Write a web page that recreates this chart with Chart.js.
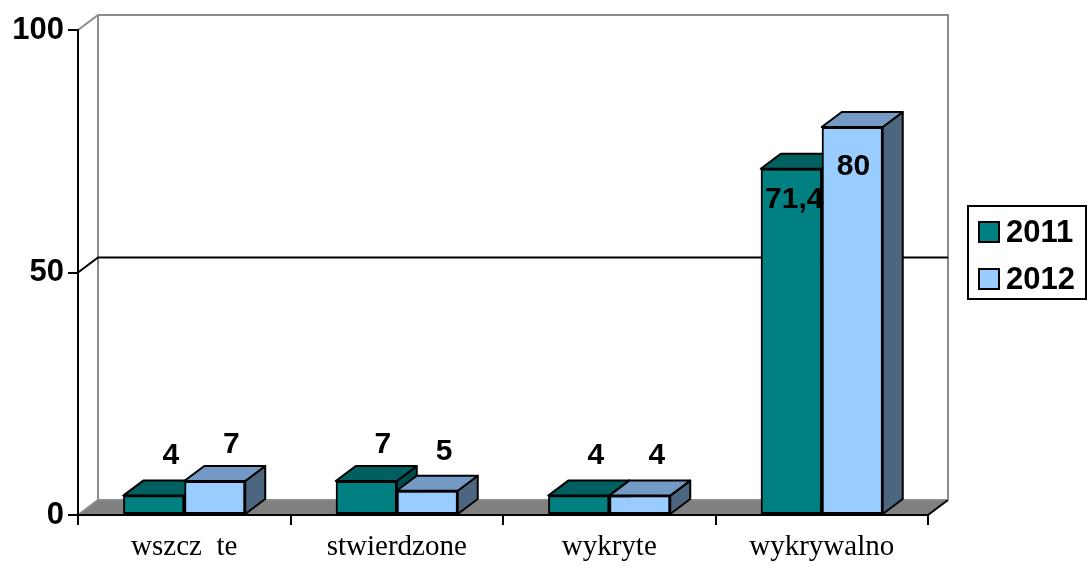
<!DOCTYPE html>
<html>
<head>
<meta charset="utf-8">
<script src="https://cdn.jsdelivr.net/npm/chart.js@4.4.0/dist/chart.umd.min.js"></script>
<style>
    html, body { margin: 0; padding: 0; background: #ffffff; }
    #wrap { width: 1090px; height: 568px; }
</style>
</head>
<body>
<div id="wrap"><canvas id="myChart" width="1090" height="568"></canvas></div>
<script>
let categories = ['wszcz  te', 'stwierdzone', 'wykryte', 'wykrywalno'];
let values_2011 = [4, 7, 4, 71.4];
let values_2012 = [7, 5, 4, 80];
let series_labels = ['2011', '2012'];
let y_ticks = [0, 50, 100];

// front / top / side colours of each series
let front_colors = ['#008080', '#99CCFF'];
let top_colors = ['#005f5f', '#7399c4'];
let side_colors = ['#004a4a', '#4d6680'];

const dx = 20, dy = -15;
const label_font = 'bold 30px Arial, "Liberation Sans", sans-serif';
const legend_font = 'bold 31px Arial, "Liberation Sans", sans-serif';

function poly(ctx, pts, fill, stroke) {
    ctx.beginPath();
    ctx.moveTo(pts[0][0], pts[0][1]);
    for (let i = 1; i < pts.length; i++) ctx.lineTo(pts[i][0], pts[i][1]);
    ctx.closePath();
    if (fill) { ctx.fillStyle = fill; ctx.fill(); }
    if (stroke) { ctx.strokeStyle = stroke; ctx.lineWidth = 2; ctx.stroke(); }
}

const walls3d = {
    id: 'walls3d',
    beforeDraw(chart) {
        const ctx = chart.ctx;
        const a = chart.chartArea;
        const y = chart.scales.y;
        ctx.save();
        ctx.fillStyle = '#ffffff';
        ctx.fillRect(0, 0, chart.width, chart.height);
        // floor
        poly(ctx, [[a.left, a.bottom], [a.left + dx, a.bottom + dy], [a.right + dx, a.bottom + dy], [a.right, a.bottom]], '#808080', null);
        ctx.lineWidth = 2;
        ctx.strokeStyle = '#8c8c8c';
        ctx.beginPath();
        ctx.moveTo(a.left, a.bottom);
        ctx.lineTo(a.left + dx, a.bottom + dy);
        ctx.lineTo(a.right + dx, a.bottom + dy);
        ctx.stroke();
        ctx.strokeStyle = '#000000';
        ctx.beginPath();
        ctx.moveTo(a.right, a.bottom);
        ctx.lineTo(a.right + dx, a.bottom + dy);
        ctx.stroke();
        // back wall
        let top = y.getPixelForValue(y_ticks[y_ticks.length - 1]);
        ctx.strokeStyle = '#8c8c8c';
        ctx.beginPath();
        ctx.moveTo(a.left, top);
        ctx.lineTo(a.left + dx, top + dy);
        ctx.lineTo(a.right + dx, top + dy);
        ctx.lineTo(a.right + dx, a.bottom + dy);
        ctx.moveTo(a.left + dx, top + dy);
        ctx.lineTo(a.left + dx, a.bottom + dy);
        ctx.stroke();
        // gridlines on back wall
        ctx.strokeStyle = '#000000';
        y_ticks.slice(1, -1).forEach(v => {
            let py = y.getPixelForValue(v);
            ctx.beginPath();
            ctx.moveTo(a.left, py);
            ctx.lineTo(a.left + dx, py + dy);
            ctx.lineTo(a.right + dx, py + dy);
            ctx.stroke();
        });
        ctx.restore();
    },
    afterDatasetsDraw(chart) {
        const ctx = chart.ctx;
        ctx.save();
        ctx.lineJoin = 'round';
        // 3d boxes, series in order so that 2012 sits over 2011
        chart.data.datasets.forEach((ds, i) => {
            chart.getDatasetMeta(i).data.forEach(bar => {
                const p = bar.getProps(['x', 'y', 'base', 'width'], true);
                const x0 = p.x - p.width / 2, x1 = p.x + p.width / 2;
                poly(ctx, [[x1, p.y], [x1 + dx, p.y + dy], [x1 + dx, p.base + dy], [x1, p.base]], side_colors[i], '#000000');
                poly(ctx, [[x0, p.y], [x0 + dx, p.y + dy], [x1 + dx, p.y + dy], [x1, p.y]], top_colors[i], '#000000');
                bar.draw(ctx);
            });
        });
        // value labels
        ctx.font = label_font;
        ctx.fillStyle = '#000000';
        ctx.textAlign = 'center';
        ctx.textBaseline = 'middle';
        chart.data.datasets.forEach((ds, i) => {
            chart.getDatasetMeta(i).data.forEach((bar, j) => {
                const v = ds.data[j];
                const p = bar.getProps(['x', 'y'], true);
                ctx.fillText(String(v).replace('.', ','), p.x + 18 - 0.21 * v, p.y - 44 + 1.05 * v);
            });
        });
        ctx.restore();
    },
    afterDraw(chart) {
        const ctx = chart.ctx;
        ctx.save();
        ctx.lineWidth = 2;
        ctx.strokeStyle = '#000000';
        ctx.strokeRect(968, 206, 118, 93);
        ctx.font = legend_font;
        ctx.textBaseline = 'middle';
        ctx.textAlign = 'left';
        chart.data.datasets.forEach((ds, i) => {
            const cy = 232 + i * 47;
            ctx.fillStyle = ds.backgroundColor;
            ctx.fillRect(979, cy - 10, 20, 20);
            ctx.strokeRect(979, cy - 10, 20, 20);
            ctx.fillStyle = '#000000';
            ctx.fillText(ds.label, 1006, cy + 1);
        });
        ctx.restore();
    }
};

let ctx = document.getElementById('myChart');
let chart = new Chart(ctx, {
    type: 'bar',
    data: {
        labels: categories,
        datasets: [
            {
                label: series_labels[0],
                data: values_2011,
                backgroundColor: front_colors[0],
                borderColor: '#000000',
                borderWidth: 2,
                borderSkipped: false
            },
            {
                label: series_labels[1],
                data: values_2012,
                backgroundColor: front_colors[1],
                borderColor: '#000000',
                borderWidth: 2,
                borderSkipped: false
            }
        ]
    },
    options: {
        responsive: false,
        animation: false,
        categoryPercentage: 0.574,
        barPercentage: 1.0,
        layout: { padding: { top: 30, right: 162, left: 0, bottom: 0 } },
        scales: {
            y: {
                min: 0,
                max: 100,
                afterFit: (s) => { s.width = 78; },
                afterBuildTicks: (s) => { s.ticks = y_ticks.map(v => ({ value: v })); },
                ticks: {
                    color: '#000000',
                    padding: 4,
                    font: { family: 'Arial, "Liberation Sans", sans-serif', size: 31, weight: 'bold' }
                },
                grid: { drawOnChartArea: false, drawTicks: true, tickLength: 10, color: '#000000', lineWidth: 2 },
                border: { display: true, color: '#000000', width: 2 }
            },
            x: {
                afterFit: (s) => { s.height = 53; },
                ticks: {
                    color: '#000000',
                    padding: 5,
                    font: { family: '"Times New Roman", "Liberation Serif", serif', size: 29 }
                },
                grid: { drawOnChartArea: false, drawTicks: true, tickLength: 10, color: '#000000', lineWidth: 2 },
                border: { display: true, color: '#000000', width: 2 }
            }
        },
        plugins: {
            legend: { display: false },
            tooltip: { enabled: false }
        }
    },
    plugins: [walls3d]
});
</script>
</body>
</html>
